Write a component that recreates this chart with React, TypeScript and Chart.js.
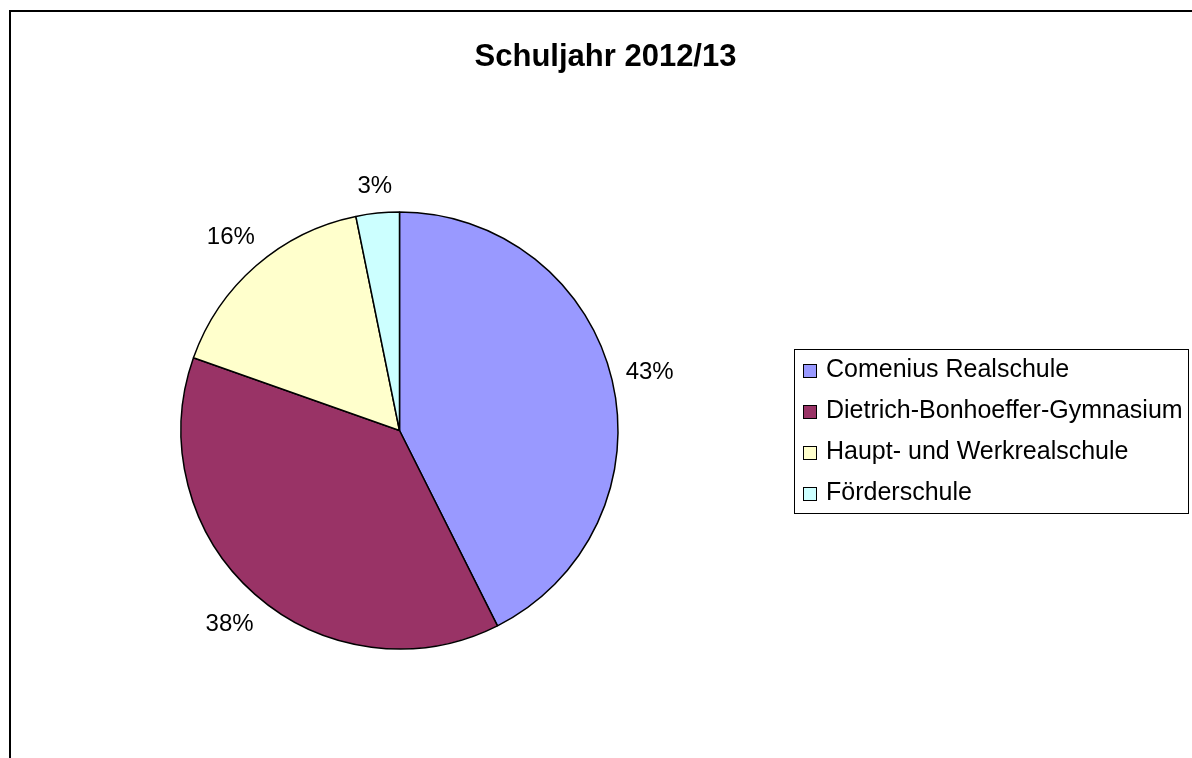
import React, { useEffect, useRef } from "react";
import { Chart, registerables } from "chart.js";

Chart.register(...registerables);

const chartTitle = "Schuljahr 2012/13";
const categories = [
  "Comenius Realschule",
  "Dietrich-Bonhoeffer-Gymnasium",
  "Haupt- und Werkrealschule",
  "Förderschule",
];
const shares = [42.6, 37.8, 16.4, 3.2];
const sliceColors = ["#9999FF", "#993366", "#FFFFCC", "#CCFFFF"];

const FONT = '"Liberation Sans", Arial, sans-serif';

const decorPlugin = {
  id: "decor",
  beforeDraw(chart: any) {
    const ctx = chart.ctx as CanvasRenderingContext2D;
    ctx.save();
    ctx.fillStyle = "#ffffff";
    ctx.fillRect(0, 0, chart.width, chart.height);
    ctx.fillStyle = "#000000";
    ctx.fillRect(9, 10, 2, chart.height - 10);
    ctx.fillRect(9, 10, chart.width - 9, 2);
    ctx.restore();
  },
  afterDraw(chart: any) {
    const ctx = chart.ctx as CanvasRenderingContext2D;
    ctx.save();
    // title
    ctx.fillStyle = "#000";
    ctx.font = `bold 31px ${FONT}`;
    ctx.textAlign = "center";
    ctx.textBaseline = "alphabetic";
    ctx.fillText(chartTitle, 605.5, 66);

    // percentage labels
    const meta = chart.getDatasetMeta(0);
    const data = chart.data.datasets[0].data as number[];
    const total = data.reduce((a, b) => a + b, 0);
    ctx.font = `24px ${FONT}`;
    ctx.textAlign = "center";
    ctx.textBaseline = "middle";
    meta.data.forEach((arc: any, i: number) => {
      const { x, y, startAngle, endAngle, outerRadius } = arc.getProps(
        ["x", "y", "startAngle", "endAngle", "outerRadius"],
        true
      );
      const mid = (startAngle + endAngle) / 2;
      const txt = Math.round((data[i] / total) * 100) + "%";
      const w = ctx.measureText(txt).width;
      const h = 28;
      const cx = Math.cos(mid);
      const cy = Math.sin(mid);
      const off = outerRadius + 12 + Math.abs(cx) * w / 2 + Math.abs(cy) * h / 2;
      ctx.fillText(txt, x + cx * off, y + cy * off + 1);
    });

    // legend
    const lx = 794, ly = 349, lw = 394, lh = 164;
    ctx.strokeStyle = "#000";
    ctx.lineWidth = 1;
    ctx.strokeRect(lx + 0.5, ly + 0.5, lw, lh);
    ctx.font = `25px ${FONT}`;
    ctx.textAlign = "left";
    ctx.textBaseline = "alphabetic";
    const labels = chart.data.labels as string[];
    const colors = chart.data.datasets[0].backgroundColor as string[];
    labels.forEach((lab, i) => {
      const base = 377 + i * 41;
      ctx.fillStyle = colors[i];
      ctx.fillRect(803, base - 13, 14, 14);
      ctx.strokeStyle = "#000";
      ctx.lineWidth = 1;
      ctx.strokeRect(803.5, base - 12.5, 13, 13);
      ctx.fillStyle = "#000";
      ctx.fillText(lab, 826, base);
    });
    ctx.restore();
  },
};

export default function App() {
  const ref = useRef<HTMLCanvasElement | null>(null);
  useEffect(() => {
    if (!ref.current) return;
    const chart = new Chart(ref.current, {
      type: "pie",
      data: {
        labels: categories,
        datasets: [
          {
            data: shares,
            backgroundColor: sliceColors,
            borderColor: "#000000",
            borderWidth: 1.5,
          },
        ],
      },
      options: {
        responsive: false,
        animation: false,
        layout: {
          padding: { left: 10, right: 403, top: 211.25, bottom: 108.25 },
        },
        plugins: {
          legend: { display: false },
          title: { display: false },
          tooltip: { enabled: false },
        },
      },
      plugins: [decorPlugin],
    });
    return () => chart.destroy();
  }, []);
  return (
    <div
      style={{
        position: "fixed",
        left: 0,
        top: 0,
        width: 1192,
        height: 758,
        background: "#fff",
        overflow: "hidden",
      }}
    >
      <canvas ref={ref} width={1192} height={758} style={{ display: "block" }} />
    </div>
  );
}
